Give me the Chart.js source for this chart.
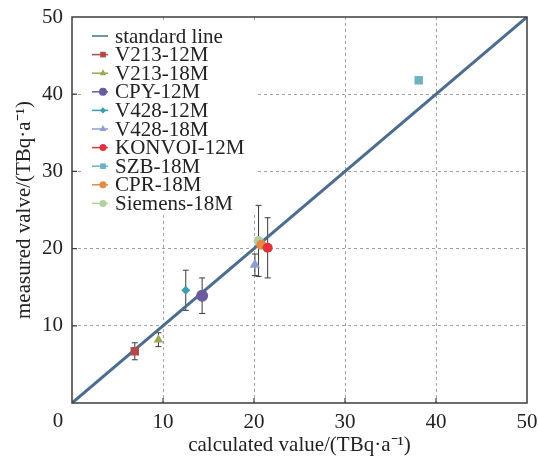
<!DOCTYPE html>
<html>
<head>
<meta charset="utf-8">
<script src="https://cdn.jsdelivr.net/npm/chart.js@4.4.1/dist/chart.umd.min.js"></script>
<style>
  body { margin: 0; background: #fff; }
  canvas { display: block; }
</style>
</head>
<body>
<canvas id="cmpChart" width="538" height="457"></canvas>
<script>
// data
var seriesNames = ['V213-12M', 'V213-18M', 'CPY-12M', 'V428-12M', 'V428-18M',
                   'KONVOI-12M', 'SZB-18M', 'CPR-18M', 'Siemens-18M'];
var calcValues = [6.9, 9.5, 14.3, 12.5, 20.1, 21.5, 38.1, 20.8, 20.5];
var measValues = [6.7, 8.2, 13.9, 14.6, 17.9, 20.1, 41.8, 20.5, 21.0];
var measErrors = [1.1, 0.9, 2.3, 2.6, 1.4, 3.9, 0, 0, 4.6];
var standardX = [0, 50];
var standardY = [0, 50];
var tickValues = [0, 10, 20, 30, 40, 50];

// styles
var colors = ['#b04a48', '#98aa52', '#6a5a9e', '#3b9fb0', '#8d9fd2',
              '#e0323c', '#6cb2c2', '#e48a44', '#b5d0a0'];
var markers = ['rect', 'triangle', 'circle', 'rectRot', 'triangle',
               'circle', 'rect', 'circle', 'circle'];
var sizes = [6, 5.5, 6, 4.5, 6, 5, 6, 5, 5];
var lineColor = '#4d6d8e';
var serif = "'Liberation Serif', 'Times New Roman', serif";

var datasets = [{
    label: 'standard line',
    type: 'line',
    data: standardX.map(function(x, i) { return {x: x, y: standardY[i]}; }),
    borderColor: lineColor,
    borderWidth: 3,
    pointRadius: 0,
    fill: false,
    order: 2
}];
seriesNames.forEach(function(name, i) {
    datasets.push({
        label: name,
        data: [{x: calcValues[i], y: measValues[i], err: measErrors[i]}],
        backgroundColor: colors[i],
        borderColor: colors[i],
        pointStyle: markers[i],
        pointRadius: sizes[i],
        borderWidth: 0,
        order: 1
    });
});

var errorBars = {
    id: 'errorBars',
    beforeDatasetsDraw: function(chart) {
        var ctx = chart.ctx, xs = chart.scales.x, ys = chart.scales.y;
        ctx.save();
        ctx.strokeStyle = '#3a3a3a';
        ctx.lineWidth = 1;
        chart.data.datasets.forEach(function(ds) {
            ds.data.forEach(function(p) {
                if (!p.err) return;
                var px = xs.getPixelForValue(p.x);
                var top = ys.getPixelForValue(p.y + p.err);
                var bot = ys.getPixelForValue(p.y - p.err);
                ctx.beginPath();
                ctx.moveTo(px, top); ctx.lineTo(px, bot);
                ctx.moveTo(px - 3, top); ctx.lineTo(px + 3, top);
                ctx.moveTo(px - 3, bot); ctx.lineTo(px + 3, bot);
                ctx.stroke();
            });
        });
        ctx.restore();
    }
};

var frameAndLegend = {
    id: 'frameAndLegend',
    afterDraw: function(chart) {
        var ctx = chart.ctx, a = chart.chartArea;
        var xs = chart.scales.x, ys = chart.scales.y;
        ctx.save();
        // legend box
        ctx.fillStyle = '#fff';
        ctx.fillRect(a.left + 9, a.top + 4, 174, 192);
        // frame
        ctx.strokeStyle = '#3c3c3c';
        ctx.lineWidth = 1.5;
        ctx.strokeRect(a.left, a.top, a.right - a.left, a.bottom - a.top);
        // inward ticks
        ctx.lineWidth = 1.2;
        ctx.beginPath();
        tickValues.slice(1, -1).forEach(function(v) {
            var px = xs.getPixelForValue(v);
            ctx.moveTo(px, a.bottom); ctx.lineTo(px, a.bottom - 5);
            var py = ys.getPixelForValue(v);
            ctx.moveTo(a.left, py); ctx.lineTo(a.left + 5, py);
        });
        ctx.stroke();
        // shared zero label at the corner
        ctx.fillStyle = '#222';
        ctx.font = '21px ' + serif;
        ctx.textAlign = 'center';
        ctx.textBaseline = 'middle';
        ctx.fillText('0', a.left - 14, a.bottom + 18);
        // legend entries
        ctx.font = '21px ' + serif;
        ctx.textAlign = 'left';
        chart.data.datasets.forEach(function(ds, i) {
            var y = a.top + 19 + i * 18.6;
            var x0 = a.left + 20;
            ctx.strokeStyle = ds.borderColor;
            ctx.lineWidth = 1.5;
            ctx.beginPath();
            ctx.moveTo(x0, y); ctx.lineTo(x0 + 16, y);
            ctx.stroke();
            if (ds.pointRadius) {
                ctx.fillStyle = ds.backgroundColor;
                Chart.helpers.drawPoint(ctx, {
                    pointStyle: ds.pointStyle,
                    radius: Math.min(ds.pointRadius * 0.7, 4),
                    rotation: 0,
                    borderWidth: 0
                }, x0 + 11, y);
            }
            ctx.fillStyle = '#222';
            ctx.fillText(ds.label, x0 + 23, y + 1);
        });
        ctx.restore();
    }
};

var tickFont = { family: serif, size: 21 };
function gridColor(c) {
    return (c.tick && (c.tick.value === 0 || c.tick.value === 50)) ? 'rgba(0,0,0,0)' : '#a0a0a0';
}
function noPad(s) {
    s.paddingLeft = 0; s.paddingRight = 0; s.paddingTop = 0; s.paddingBottom = 0;
}

new Chart(document.getElementById('cmpChart').getContext('2d'), {
    type: 'scatter',
    data: { datasets: datasets },
    plugins: [errorBars, frameAndLegend],
    options: {
        responsive: false,
        animation: false,
        devicePixelRatio: 1,
        layout: { padding: { top: 17, right: 11, left: 0, bottom: 0 } },
        plugins: { legend: { display: false }, tooltip: { enabled: false } },
        scales: {
            x: {
                type: 'linear', min: 0, max: 50,
                afterBuildTicks: function(s) { s.ticks = tickValues.map(function(v) { return {value: v}; }); },
                afterFit: function(s) { s.height = 54; noPad(s); },
                ticks: {
                    font: tickFont, color: '#222', padding: 7, maxRotation: 0,
                    callback: function(v) { return v === 0 ? '' : v; }
                },
                grid: { color: gridColor, lineWidth: 1, drawTicks: false, borderDash: [3, 3] },
                border: { display: false, dash: [3, 3] },
                title: {
                    display: true, text: 'calculated value/(TBq·a⁻¹)',
                    font: { family: serif, size: 21 }, color: '#222',
                    padding: { top: 0, bottom: -1 }
                }
            },
            y: {
                type: 'linear', min: 0, max: 50,
                afterBuildTicks: function(s) { s.ticks = tickValues.map(function(v) { return {value: v}; }); },
                afterFit: function(s) { s.width = 72; noPad(s); },
                ticks: {
                    font: tickFont, color: '#222', padding: 9,
                    callback: function(v) { return v === 0 ? '' : v; }
                },
                grid: { color: gridColor, lineWidth: 1, drawTicks: false, borderDash: [3, 3] },
                border: { display: false, dash: [3, 3] },
                title: {
                    display: true, text: 'measured valve/(TBq·a⁻¹)',
                    font: { family: serif, size: 21 }, color: '#222',
                    padding: { top: 12, bottom: 0 }
                }
            }
        }
    }
});
</script>
</body>
</html>
